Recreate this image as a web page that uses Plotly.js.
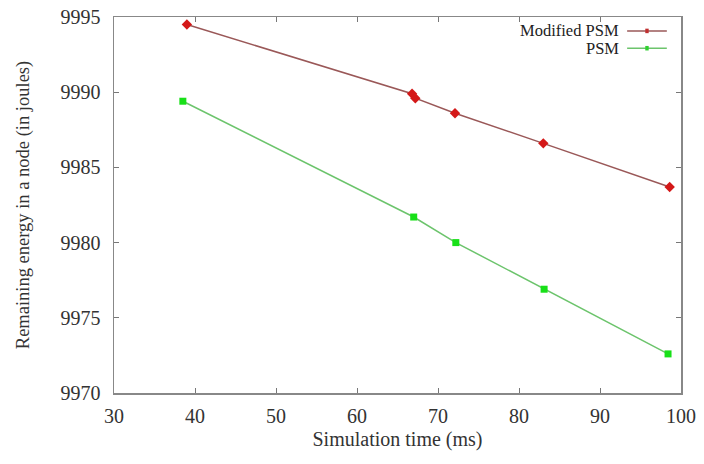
<!DOCTYPE html>
<html><head><meta charset="utf-8">
<script src="https://cdn.plot.ly/plotly-3.0.1.min.js"></script>
<style>html,body{margin:0;padding:0;background:#fff}</style>
</head><body><div id="chart" style="width:704px;height:464px"></div>
<script>
const modTime = [39.0, 66.8, 67.2, 72.1, 83.0, 98.6];
const modEnergy = [9994.5, 9989.9, 9989.6, 9988.6, 9986.6, 9983.7];
const psmTime = [38.5, 67.0, 72.2, 83.1, 98.4];
const psmEnergy = [9989.4, 9981.7, 9980.0, 9976.9, 9972.6];
const seriesNames = ["Modified PSM", "PSM"];
const xTicks = [30, 40, 50, 60, 70, 80, 90, 100];
const yTicks = [9970, 9975, 9980, 9985, 9990, 9995];

const fam = "Liberation Serif, Times New Roman, serif";
const tickFont = {family: fam, size: 20, color: "#333"};
const modLine = "#9a5858", psmLine = "#6cc46c";
const traces = [
  {x: modTime, y: modEnergy, name: seriesNames[0], mode: "lines+markers",
   line: {color: modLine, width: 1.5}, marker: {color: "#d41818", size: 8, symbol: "diamond"}},
  {x: psmTime, y: psmEnergy, name: seriesNames[1], mode: "lines+markers",
   line: {color: psmLine, width: 1.5}, marker: {color: "#18e018", size: 7, symbol: "square"}}
];
const axisCommon = {showgrid: false, zeroline: false, showline: true, linecolor: "#888", linewidth: 1.5,
  mirror: "ticks", ticks: "inside", ticklen: 5, tickcolor: "#777", tickfont: tickFont};
const layout = {
  width: 704, height: 464, margin: {l: 114, r: 23, t: 17, b: 71},
  paper_bgcolor: "#fff", plot_bgcolor: "#fff", showlegend: false, font: tickFont,
  xaxis: Object.assign({}, axisCommon, {range: [30, 100], tickvals: xTicks, ticktext: xTicks.map(String),
    ticklabelstandoff: 4,
    title: {text: "Simulation time (ms)", font: {family: fam, size: 20, color: "#333"}, standoff: 6}}),
  yaxis: Object.assign({}, axisCommon, {range: [9970, 9995], tickvals: yTicks, ticktext: yTicks.map(String),
    ticklabelstandoff: 8,
    title: {text: "Remaining energy in a node (in joules)", font: {family: fam, size: 18.5, color: "#333"}, standoff: 26}}),
  annotations: [
    {xref: "paper", yref: "paper", x: 0.894, y: 0.965, xanchor: "right", yanchor: "middle", showarrow: false,
     text: seriesNames[0], font: {family: fam, size: 16.5, color: "#222"}},
    {xref: "paper", yref: "paper", x: 0.894, y: 0.915, xanchor: "right", yanchor: "middle", showarrow: false,
     text: seriesNames[1], font: {family: fam, size: 16.5, color: "#222"}}
  ],
  shapes: [
    {type: "line", xref: "paper", yref: "paper", x0: 0.905, x1: 0.975, y0: 0.963, y1: 0.963, line: {color: modLine, width: 1.5}},
    {type: "line", xref: "paper", yref: "paper", x0: 0.905, x1: 0.975, y0: 0.917, y1: 0.917, line: {color: psmLine, width: 1.5}},
    {type: "rect", xref: "paper", yref: "paper", x0: 0.937, x1: 0.943, y0: 0.957, y1: 0.969, line: {width: 0}, fillcolor: "#c03030"},
    {type: "rect", xref: "paper", yref: "paper", x0: 0.937, x1: 0.943, y0: 0.911, y1: 0.923, line: {width: 0}, fillcolor: "#30d030"}
  ]
};
Plotly.newPlot("chart", traces, layout, {displayModeBar: false, staticPlot: true});
</script></body></html>
